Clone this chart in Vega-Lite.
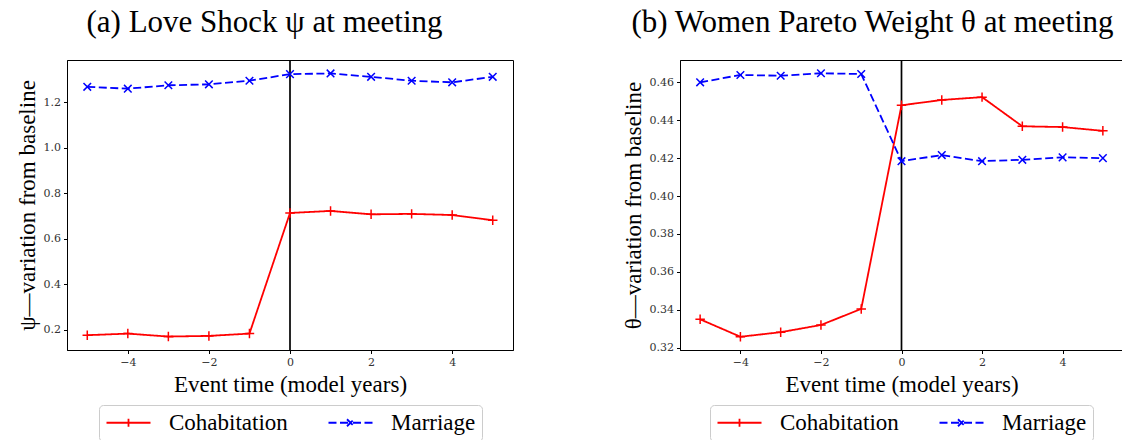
{
  "$schema": "https://vega.github.io/schema/vega-lite/v6.json",
  "padding": {"left": 15, "top": 6, "right": 0, "bottom": 0},
  "background": "#ffffff",
  "config": {
    "font": "Liberation Serif",
    "view": {"stroke": "#000000", "strokeWidth": 1},
    "axis": {
      "grid": false,
      "domainColor": "#000000",
      "tickColor": "#000000",
      "tickSize": 3.5,
      "labelFont": "DejaVu Serif",
      "labelFontSize": 11,
      "labelColor": "#333333",
      "labelPadding": 3,
      "titleFont": "Liberation Serif",
      "titleFontSize": 23,
      "titleFontWeight": "normal",
      "titleColor": "#000000"
    },
    "axisX": {"titlePadding": 6},
    "title": {"font": "Liberation Serif", "fontSize": 31, "fontWeight": "normal", "anchor": "middle", "frame": "bounds", "offset": 20, "color": "#000000"},
    "legend": {
      "layout": {"bottom": {"anchor": "middle"}},
      "labelFont": "Liberation Serif",
      "labelFontSize": 23,
      "labelColor": "#000000",
      "strokeColor": "#cccccc",
      "fillColor": "#ffffff",
      "cornerRadius": 4,
      "padding": 6,
      "columnPadding": 36,
      "labelOffset": 41,
      "symbolSize": 400,
      "symbolStrokeWidth": 1.8,
      "offset": 8
    },
    "concat": {"spacing": 107}
  },
  "resolve": {
    "scale": {"x": "independent", "y": "independent", "color": "independent", "strokeDash": "independent"},
    "legend": {"color": "independent", "strokeDash": "independent"}
  },
  "hconcat": [
    {
      "title": "(a) Love Shock ψ at meeting",
      "width": 446,
      "height": 290,
      "data": {"values": [
        {"event_time": -5, "value": 0.177, "series": "Cohabitation"},
        {"event_time": -4, "value": 0.184, "series": "Cohabitation"},
        {"event_time": -3, "value": 0.171, "series": "Cohabitation"},
        {"event_time": -2, "value": 0.174, "series": "Cohabitation"},
        {"event_time": -1, "value": 0.184, "series": "Cohabitation"},
        {"event_time": 0, "value": 0.714, "series": "Cohabitation"},
        {"event_time": 1, "value": 0.723, "series": "Cohabitation"},
        {"event_time": 2, "value": 0.708, "series": "Cohabitation"},
        {"event_time": 3, "value": 0.710, "series": "Cohabitation"},
        {"event_time": 4, "value": 0.705, "series": "Cohabitation"},
        {"event_time": 5, "value": 0.682, "series": "Cohabitation"},
        {"event_time": -5, "value": 1.268, "series": "Marriage"},
        {"event_time": -4, "value": 1.260, "series": "Marriage"},
        {"event_time": -3, "value": 1.275, "series": "Marriage"},
        {"event_time": -2, "value": 1.279, "series": "Marriage"},
        {"event_time": -1, "value": 1.295, "series": "Marriage"},
        {"event_time": 0, "value": 1.324, "series": "Marriage"},
        {"event_time": 1, "value": 1.327, "series": "Marriage"},
        {"event_time": 2, "value": 1.312, "series": "Marriage"},
        {"event_time": 3, "value": 1.295, "series": "Marriage"},
        {"event_time": 4, "value": 1.288, "series": "Marriage"},
        {"event_time": 5, "value": 1.312, "series": "Marriage"}
      ]},
      "layer": [
        {
          "data": {"values": [{"event_time": 0}]},
          "mark": {"type": "rule", "color": "#000000", "strokeWidth": 1.7},
          "encoding": {"x": {"field": "event_time", "type": "quantitative"}}
        },
        {
          "mark": {"type": "line", "strokeWidth": 1.8},
          "encoding": {
            "x": {"field": "event_time", "type": "quantitative", "title": "Event time (model years)", "scale": {"domain": [-5.5, 5.5], "nice": false, "zero": false}, "axis": {"values": [-4, -2, 0, 2, 4], "format": "d"}},
            "y": {"field": "value", "type": "quantitative", "title": "ψ—variation from baseline", "scale": {"domain": [0.112, 1.386], "nice": false, "zero": false}, "axis": {"values": [0.2, 0.4, 0.6, 0.8, 1.0, 1.2], "format": ".1f"}},
            "color": {
              "field": "series", "type": "nominal", "title": null,
              "scale": {"domain": ["Cohabitation", "Marriage"], "range": ["#ff0000", "#0000ff"]},
              "legend": {
                "orient": "bottom", "direction": "horizontal",
                "encode": {"symbols": {"update": {
                  "shape": {"signal": "datum.value === 'Cohabitation' ? 'M-1,0L3.4,0M1.2,-0.4L1.2,0.4' : 'M-1,0L-0.2,0M0.15,0L0.95,0M1.45,0L2.25,0M2.6,0L3.4,0M0.85,-0.35L1.55,0.35M0.85,0.35L1.55,-0.35'"},
                  "size": {"value": 400},
                  "fill": {"value": "transparent"},
                  "strokeWidth": {"value": 1.8},
                  "strokeDash": {"value": []},
                  "opacity": {"value": 1}
                }}}
              }
            },
            "strokeDash": {"field": "series", "type": "nominal", "scale": {"domain": ["Cohabitation", "Marriage"], "range": [[1, 0], [8, 3.5]]}, "legend": null}
          }
        },
        {
          "transform": [{"filter": "datum.series === 'Cohabitation'"}],
          "mark": {"type": "point", "filled": false, "strokeWidth": 1.5, "size": 90, "opacity": 1, "color": "#ff0000", "shape": "M-1,0L1,0M0,-1L0,1"},
          "encoding": {
            "x": {"field": "event_time", "type": "quantitative"},
            "y": {"field": "value", "type": "quantitative"}
          }
        },
        {
          "transform": [{"filter": "datum.series === 'Marriage'"}],
          "mark": {"type": "point", "filled": false, "strokeWidth": 1.5, "size": 90, "opacity": 1, "color": "#0000ff", "shape": "M-0.8,-0.8L0.8,0.8M-0.8,0.8L0.8,-0.8"},
          "encoding": {
            "x": {"field": "event_time", "type": "quantitative"},
            "y": {"field": "value", "type": "quantitative"}
          }
        }
      ]
    },
    {
      "title": "(b) Women Pareto Weight θ at meeting",
      "width": 443,
      "height": 290,
      "data": {"values": [
        {"event_time": -5, "value": 0.3349, "series": "Cohabitation"},
        {"event_time": -4, "value": 0.3257, "series": "Cohabitation"},
        {"event_time": -3, "value": 0.3281, "series": "Cohabitation"},
        {"event_time": -2, "value": 0.3319, "series": "Cohabitation"},
        {"event_time": -1, "value": 0.3404, "series": "Cohabitation"},
        {"event_time": 0, "value": 0.4479, "series": "Cohabitation"},
        {"event_time": 1, "value": 0.4507, "series": "Cohabitation"},
        {"event_time": 2, "value": 0.4522, "series": "Cohabitation"},
        {"event_time": 3, "value": 0.4368, "series": "Cohabitation"},
        {"event_time": 4, "value": 0.4364, "series": "Cohabitation"},
        {"event_time": 5, "value": 0.4344, "series": "Cohabitation"},
        {"event_time": -5, "value": 0.4600, "series": "Marriage"},
        {"event_time": -4, "value": 0.4639, "series": "Marriage"},
        {"event_time": -3, "value": 0.4635, "series": "Marriage"},
        {"event_time": -2, "value": 0.4648, "series": "Marriage"},
        {"event_time": -1, "value": 0.4644, "series": "Marriage"},
        {"event_time": 0, "value": 0.4184, "series": "Marriage"},
        {"event_time": 1, "value": 0.4216, "series": "Marriage"},
        {"event_time": 2, "value": 0.4184, "series": "Marriage"},
        {"event_time": 3, "value": 0.4191, "series": "Marriage"},
        {"event_time": 4, "value": 0.4204, "series": "Marriage"},
        {"event_time": 5, "value": 0.4200, "series": "Marriage"}
      ]},
      "layer": [
        {
          "data": {"values": [{"event_time": 0}]},
          "mark": {"type": "rule", "color": "#000000", "strokeWidth": 1.7},
          "encoding": {"x": {"field": "event_time", "type": "quantitative"}}
        },
        {
          "mark": {"type": "line", "strokeWidth": 1.8},
          "encoding": {
            "x": {"field": "event_time", "type": "quantitative", "title": "Event time (model years)", "scale": {"domain": [-5.5, 5.5], "nice": false, "zero": false}, "axis": {"values": [-4, -2, 0, 2, 4], "format": "d"}},
            "y": {"field": "value", "type": "quantitative", "title": "θ—variation from baseline", "scale": {"domain": [0.3187, 0.4718], "nice": false, "zero": false}, "axis": {"values": [0.32, 0.34, 0.36, 0.38, 0.40, 0.42, 0.44, 0.46], "format": ".2f"}},
            "color": {
              "field": "series", "type": "nominal", "title": null,
              "scale": {"domain": ["Cohabitation", "Marriage"], "range": ["#ff0000", "#0000ff"]},
              "legend": {
                "orient": "bottom", "direction": "horizontal",
                "encode": {"symbols": {"update": {
                  "shape": {"signal": "datum.value === 'Cohabitation' ? 'M-1,0L3.4,0M1.2,-0.4L1.2,0.4' : 'M-1,0L-0.2,0M0.15,0L0.95,0M1.45,0L2.25,0M2.6,0L3.4,0M0.85,-0.35L1.55,0.35M0.85,0.35L1.55,-0.35'"},
                  "size": {"value": 400},
                  "fill": {"value": "transparent"},
                  "strokeWidth": {"value": 1.8},
                  "strokeDash": {"value": []},
                  "opacity": {"value": 1}
                }}}
              }
            },
            "strokeDash": {"field": "series", "type": "nominal", "scale": {"domain": ["Cohabitation", "Marriage"], "range": [[1, 0], [8, 3.5]]}, "legend": null}
          }
        },
        {
          "transform": [{"filter": "datum.series === 'Cohabitation'"}],
          "mark": {"type": "point", "filled": false, "strokeWidth": 1.5, "size": 90, "opacity": 1, "color": "#ff0000", "shape": "M-1,0L1,0M0,-1L0,1"},
          "encoding": {
            "x": {"field": "event_time", "type": "quantitative"},
            "y": {"field": "value", "type": "quantitative"}
          }
        },
        {
          "transform": [{"filter": "datum.series === 'Marriage'"}],
          "mark": {"type": "point", "filled": false, "strokeWidth": 1.5, "size": 90, "opacity": 1, "color": "#0000ff", "shape": "M-0.8,-0.8L0.8,0.8M-0.8,0.8L0.8,-0.8"},
          "encoding": {
            "x": {"field": "event_time", "type": "quantitative"},
            "y": {"field": "value", "type": "quantitative"}
          }
        }
      ]
    }
  ]
}
